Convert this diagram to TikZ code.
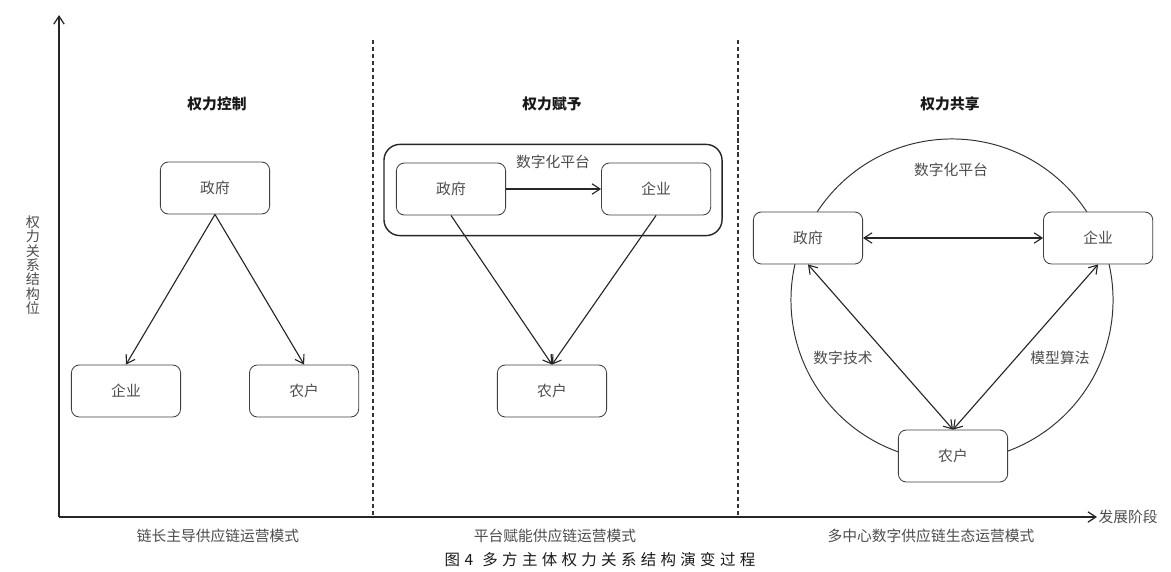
\documentclass[tikz,border=0pt]{standalone}
\usepackage{fontspec}
\setmainfont{Noto Sans CJK SC}
\newfontfamily\capfont{Noto Sans CJK SC}[LetterSpace=28]
\usetikzlibrary{positioning, arrows.meta}
\tikzset{
x=0.025cm, y=-0.025cm, % one unit is one pixel of the layout, y runs downwards
>={Straight Barb[length=2mm,width=2.6mm]}, % open arrow heads
every node/.style={font=\fontsize{10.5}{12}\selectfont, text=black!70}, % plain labels
actor/.style={draw=black!75, line width=0.6pt, rounded corners=2mm, fill=white, minimum width=2.73cm, minimum height=1.3cm}, % the three parties
platform/.style={draw=black!85, line width=1pt, rounded corners=4mm, minimum width=8.45cm, minimum height=2.28cm}, % frame of the platform
link/.style={->, draw=black!85, line width=0.8pt}, % one way relation
both/.style={<->, draw=black!85, line width=0.8pt}, % two way relation
heading/.style={font=\fontsize{10.5}{12}\selectfont\bfseries, text=black!90}, % stage titles
divider/.style={dashed, dash pattern=on 3pt off 2pt, line width=0.8pt, draw=black!80}, % stage borders
axis/.style={->, line width=0.9pt, draw=black!85}, % the two axes
}
\begin{document}
\begin{tikzpicture}
\useasboundingbox (0,0) rectangle (1171,572);
% axes
\coordinate (o) at (59,517);
\coordinate (ytop) at (59,15);
\coordinate (xend) at (1097,517);
\draw[axis] (o) -- (ytop);
\draw[axis] (o) -- (xend);
\node[anchor=west, inner sep=1pt] (xlab) at (xend) {发展阶段};
\node[align=center, font=\fontsize{10}{10.2}\selectfont] (ylab) at (33,265) {权\\力\\关\\系\\结\\构\\位};
\foreach \sx in {373,738}
    \draw[divider] (\sx,40) -- (\sx,517);

% stage titles and modes
\node[heading] (t1) at (217,104) {权力控制};
\node[heading] (t2) at (552,104) {权力赋予};
\node[heading] (t3) at (950,104) {权力共享};
\node (m1) at (218,536) {链长主导供应链运营模式};
\node (m2) at (555,536) {平台赋能供应链运营模式};
\node (m3) at (931,536) {多中心数字供应链生态运营模式};
\node[font=\capfont\fontsize{11}{12}\selectfont, text=black!90] (cap) at (600,560) {图4\hspace{0.6em}多方主体权力关系结构演变过程};

% power control
\node[actor] (gov1) at (215,188) {政府};
\node[actor] (ent1) at (126,391) {企业};
\node[actor, right=1.7cm of ent1] (farm1) {农户};
\draw[link] (gov1.south) -- (ent1.north);
\draw[link] (gov1.south) -- (farm1.north);

% power empowerment
\node[platform] (plat2) at (553,190) {};
\node[actor] (gov2) at (451,189) {政府};
\node[actor, right=2.375cm of gov2] (ent2) {企业};
\node (net2) at (553,162) {数字化平台};
\node[actor] (farm2) at (552,391) {农户};
\draw[link] (gov2) -- (ent2);
\draw[link] (gov2.south) -- (farm2.north);
\draw[link] (ent2.south) -- (farm2.north);

% power sharing
\node[circle, draw=black!80, line width=0.7pt, minimum size=8.05cm, inner sep=0pt] (plat3) at (952,300) {};
\node (net3) at (951,170) {数字化平台};
\node[actor] (gov3) at (808,238) {政府};
\node[actor, right=4.5cm of gov3] (ent3) {企业};
\node[actor] (farm3) at (953,456) {农户};
\draw[both] (gov3) -- (ent3);
\draw[both] (gov3.south) -- (farm3.north);
\draw[both] (ent3.south) -- (farm3.north);
\node (tech3) at (843,358) {数字技术};
\node (algo3) at (1060,358) {模型算法};
\end{tikzpicture}
\end{document}
